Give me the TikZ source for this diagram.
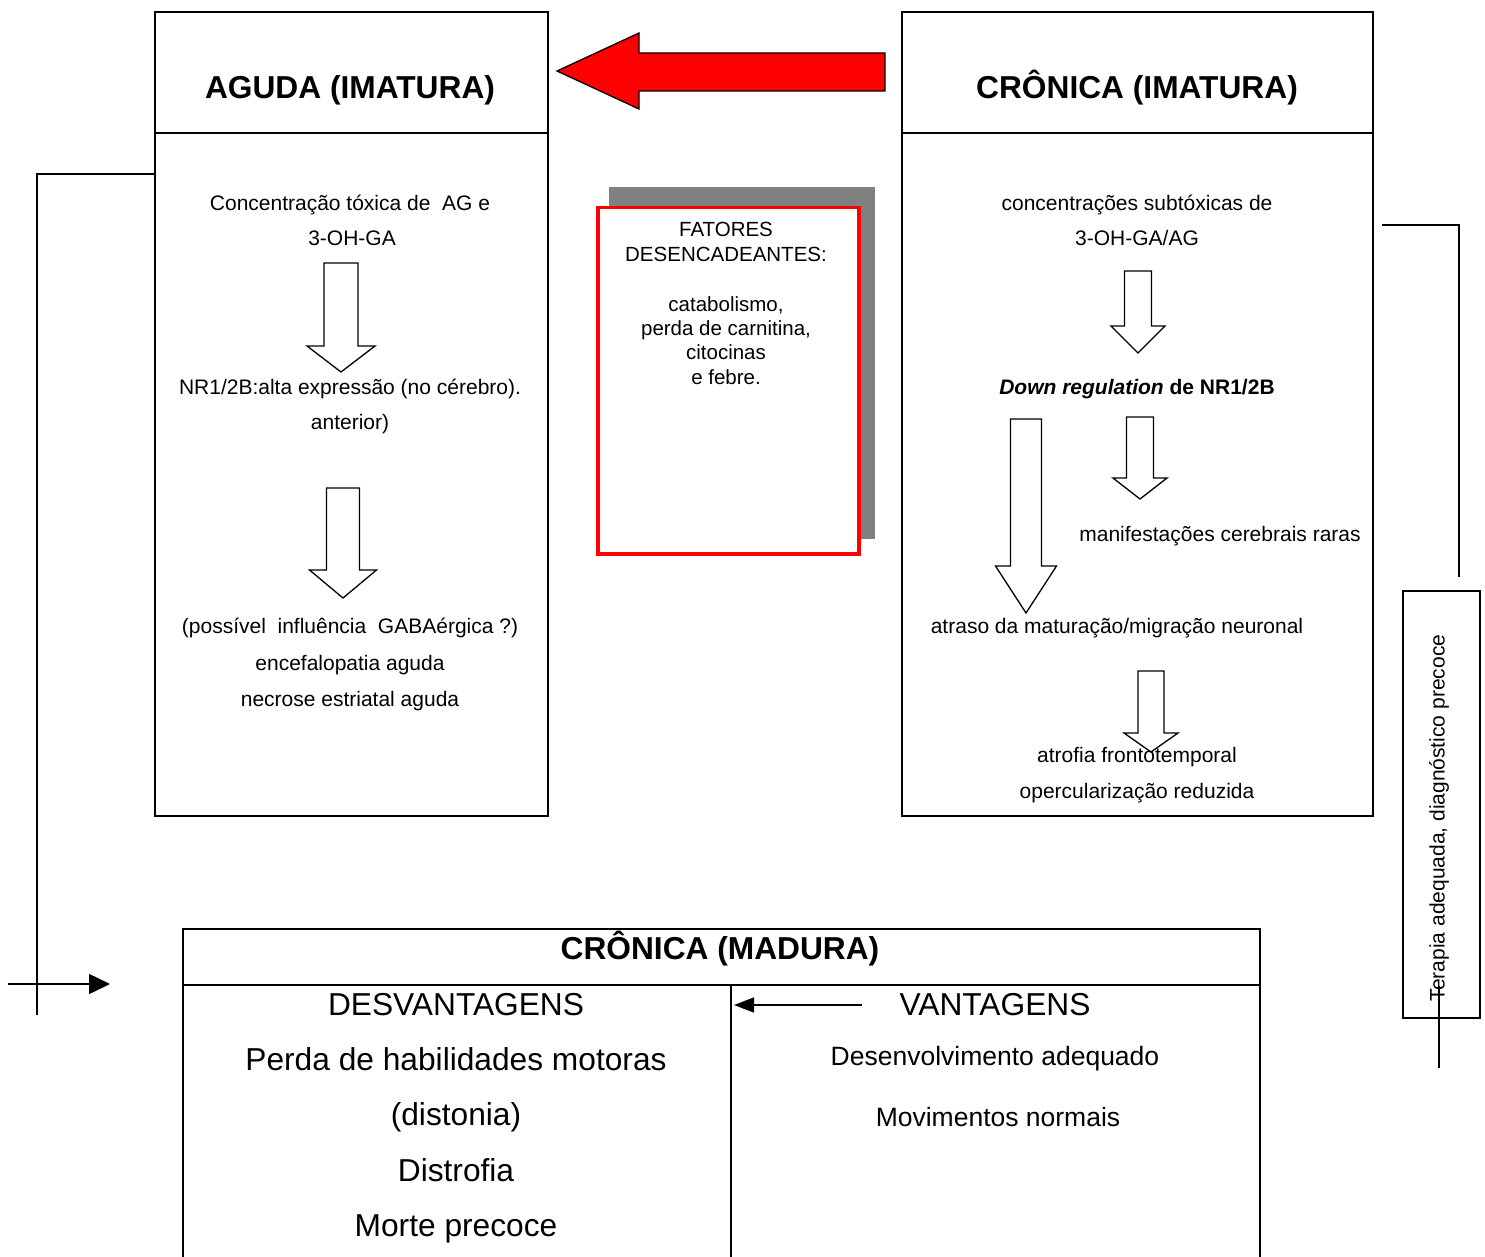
\documentclass[tikz,border=0pt]{standalone}
\usepackage{fontspec}
\setmainfont{Liberation Sans}
\usetikzlibrary{arrows.meta}
\newcommand{\hollowarr}[6]{%
  \draw[hollow] (#1-#3,#2) -- (#1+#3,#2) -- (#1+#3,#5) -- (#1+#4,#5) -- (#1,#6) -- (#1-#4,#5) -- (#1-#3,#5) -- cycle;}
\begin{document}
\begin{tikzpicture}[x=1pt,y=-1pt,
  box/.style={draw, line width=2pt, rectangle, inner sep=0pt, anchor=north west},
  tbase/.style={inner sep=0pt, anchor=center, text depth=0pt},
  txt/.style={tbase, text height=15pt, font=\fontsize{21}{25}\selectfont},
  fat/.style={tbase, text height=14.7pt, font=\fontsize{20.5}{24.5}\selectfont},
  ttl/.style={tbase, text height=22.7pt, font=\fontsize{31.7}{36}\selectfont\bfseries},
  big/.style={tbase, text height=22.7pt, font=\fontsize{31.7}{36}\selectfont},
  mid/.style={tbase, text height=19pt, font=\fontsize{26.5}{30}\selectfont},
  hollow/.style={draw, line width=1.3pt, fill=white, line join=miter},
  conn/.style={line width=1.5pt},
]
\useasboundingbox (0,0) rectangle (1485,1257);
\fill[white] (0,0) rectangle (1485,1257);

% ---------- left box: AGUDA (IMATURA)
\node[box, minimum width=393pt, minimum height=804pt] (aguda) at (154,11) {};
\draw[line width=2pt] (154,133) -- (547,133);
\node[ttl] (agudat) at (350,87) {AGUDA (IMATURA)};
\hollowarr{341}{263}{17}{34}{346}{372}
\hollowarr{343}{488}{16.5}{33.5}{570}{598}
\node[txt] (a1) at (350,203) {Concentração tóxica de \ AG e};
\node[txt] (a2) at (352,238) {3-OH-GA};
\node[txt] (a3) at (350,387) {NR1/2B:alta expressão (no cérebro).};
\node[txt] (a4) at (350,422) {anterior)};
\node[txt] (a5) at (350,626) {(possível \ influência \ GABAérgica ?)};
\node[txt] (a6) at (350,663) {encefalopatia aguda};
\node[txt] (a7) at (350,699) {necrose estriatal aguda};

% ---------- right box: CRÔNICA (IMATURA)
\node[box, minimum width=471pt, minimum height=804pt] (cronica) at (901,11) {};
\draw[line width=2pt] (901,133) -- (1372,133);
\node[ttl] (cronicat) at (1137,87) {CRÔNICA (IMATURA)};
\hollowarr{1138}{271}{13.5}{27}{326}{353}
\hollowarr{1026}{419}{15.5}{30.5}{566}{613}
\hollowarr{1140}{417}{13.5}{27}{478}{499}
\hollowarr{1151}{671}{13}{27}{733}{752}
\node[txt] (c1) at (1137,203) {concentrações subtóxicas de};
\node[txt] (c2) at (1137,238) {3-OH-GA/AG};
\node[txt] (c3) at (1137,387) {\bfseries\itshape Down regulation\upshape\ de NR1/2B};
\node[txt] (c4) at (1220,534) {manifestações cerebrais raras};
\node[txt] (c5) at (1117,626) {atraso da maturação/migração neuronal};
\node[txt] (c6) at (1137,755) {atrofia frontotemporal};
\node[txt] (c7) at (1137,791) {opercularização reduzida};

% ---------- red arrow
\draw[line width=1.3pt, fill=red, line join=miter] (557,71) -- (639,33) -- (639,53) -- (885,53) -- (885,91) -- (639,91) -- (639,109) -- cycle;

% ---------- fatores desencadeantes
\fill[black!50] (609,187) rectangle (875,539);
\node[draw=red, line width=3.5pt, fill=white, minimum width=261pt, minimum height=346pt, inner sep=0pt, anchor=north west] (fatores) at (596,206) {};
\node[fat] (f1) at (726,229) {FATORES};
\node[fat] (f2) at (726,254) {DESENCADEANTES:};
\node[fat] (f3) at (726,304) {catabolismo,};
\node[fat] (f4) at (726,328) {perda de carnitina,};
\node[fat] (f5) at (726,352) {citocinas};
\node[fat] (f6) at (726,377) {e febre.};

% ---------- bottom box: CRÔNICA (MADURA)
\node[box, minimum width=1077pt, minimum height=345pt] (madura) at (182,928) {};
\draw[line width=2pt] (182,985) -- (1259,985);
\draw[line width=2pt] (731,985) -- (731,1275);
\node[ttl] (madurat) at (720,948) {CRÔNICA (MADURA)};
\node[big] (desv) at (456,1004) {DESVANTAGENS};
\node[big] (d1) at (456,1059) {Perda de habilidades motoras};
\node[big] (d2) at (456,1114) {(distonia)};
\node[big] (d3) at (456,1170) {Distrofia};
\node[big] (d4) at (456,1225) {Morte precoce};
\node[big] (vant) at (995,1004) {VANTAGENS};
\node[mid] (v1) at (995,1056) {Desenvolvimento adequado};
\node[mid] (v2) at (998,1117) {Movimentos normais};
\coordinate (va) at (862,1005);
\coordinate (vb) at (734,1005);
\draw[conn, -{Triangle[length=20pt,width=15pt]}] (va) -- (vb);

% ---------- left connector
\coordinate (l1) at (37,174);
\coordinate (l2) at (37,1015);
\coordinate (h1) at (8,984);
\coordinate (h2) at (110,984);
\draw[conn] (aguda.west |- l1) -- (l1) -- (l2);
\draw[conn, -{Triangle[length=21pt,width=20pt]}] (h1) -- (h2);

% ---------- right connector and terapia box
\coordinate (r1) at (1382,225);
\coordinate (r2) at (1459,225);
\coordinate (r3) at (1459,577);
\draw[conn] (r1) -- (r2) -- (r3);
\node[draw, line width=1.6pt, minimum width=77pt, minimum height=427pt, inner sep=0pt, anchor=north west] (terapia) at (1402,590) {};
\node[txt, rotate=90] (tt) at (1437,818) {Terapia adequada, diagnóstico precoce};
\coordinate (t1) at (1439,986);
\coordinate (t2) at (1439,1068);
\draw[conn] (t1) -- (t2);
\end{tikzpicture}
\end{document}
